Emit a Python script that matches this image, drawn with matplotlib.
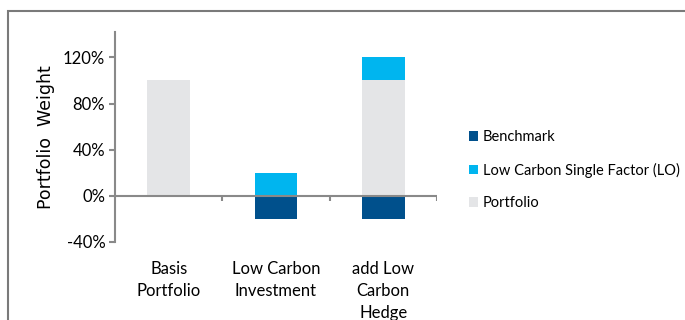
import numpy as np
import matplotlib
matplotlib.use('Agg')
import matplotlib.pyplot as plt
from matplotlib.patches import Rectangle
from matplotlib.ticker import PercentFormatter

# Weights per strategy (fraction of capital)
categories = ['Basis\nPortfolio', 'Low Carbon\nInvestment', 'add Low\nCarbon\nHedge']
portfolio = [1.0, 0.0, 1.0]
low_carbon = [0.0, 0.2, 0.2]
benchmark = [0.0, -0.2, -0.2]
yticks = [-0.4, 0.0, 0.4, 0.8, 1.2]

col_bench = '#00508c'
col_lo = '#00b5ef'
col_port = '#e4e5e7'
grey = '#898989'

plt.rcParams['font.family'] = ['Lato', 'DejaVu Sans']
plt.rcParams['axes.unicode_minus'] = False

fig = plt.figure(figsize=(6.85, 3.2), dpi=100)
ax = fig.add_axes([115/685, 1 - 242/320, (437 - 115)/685, (242 - 32)/320])

x = np.arange(len(categories))
w = 0.4
ax.bar(x, benchmark, w, color=col_bench, label='Benchmark', zorder=2)
ax.bar(x, low_carbon, w, bottom=portfolio, color=col_lo,
       label='Low Carbon Single Factor (LO)', zorder=2)
ax.bar(x, portfolio, w, color=col_port, label='Portfolio', zorder=2)

ax.set_xlim(-0.5, len(categories) - 0.5)
ax.set_ylim(-0.4, 1.42)

# zero line with category separators
ax.axhline(0, color=grey, lw=1.5, zorder=3)
ax.vlines(np.arange(len(categories)) + 0.5, -0.045, 0, color=grey, lw=1.5, zorder=3)

for s in ['top', 'right', 'bottom']:
    ax.spines[s].set_visible(False)
ax.spines['left'].set_color(grey)
ax.spines['left'].set_linewidth(1.5)

ax.set_yticks(yticks)
ax.yaxis.set_major_formatter(PercentFormatter(1.0, decimals=0))
ax.tick_params(axis='y', length=4, width=1.5, color=grey, labelsize=12, pad=3)
ax.set_xticks(x)
ax.set_xticklabels(categories, fontsize=12, linespacing=1.45)
ax.tick_params(axis='x', length=0, pad=14)

ax.set_ylabel('Portfolio  Weight', family='DejaVu Sans', fontsize=12.5, labelpad=6)

ax.legend(loc='center left', bbox_to_anchor=(469/685, 1 - 170/320),
          bbox_transform=fig.transFigure, frameon=False, fontsize=10.5,
          borderpad=0, borderaxespad=0,
          handlelength=0.65, handleheight=0.65, handletextpad=0.3,
          labelspacing=1.25)

# outer chart border
fig.patches.append(Rectangle((8/685, -0.05), 1.1, 1.05 - 11/320,
                             transform=fig.transFigure, fill=False,
                             edgecolor='#7a7a7a', lw=1.5))

fig.savefig('out.png', dpi=100)
